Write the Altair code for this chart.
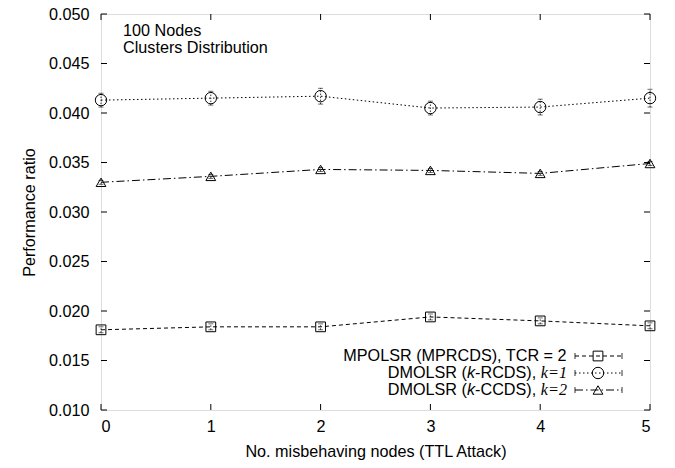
import altair as alt
import pandas as pd

# ---------------- data ----------------
x_vals = [0, 1, 2, 3, 4, 5]
mprcds_vals = [0.0181, 0.0184, 0.0184, 0.0194, 0.0190, 0.0185]
mprcds_err = [0.0003, 0.0003, 0.0003, 0.0003, 0.0003, 0.0003]
rcds_vals = [0.0413, 0.0415, 0.0417, 0.0405, 0.0406, 0.0415]
rcds_err = [0.0007, 0.0007, 0.0008, 0.0007, 0.0008, 0.0009]
ccds_vals = [0.0330, 0.0336, 0.0343, 0.0342, 0.0339, 0.0349]
ccds_err = [0.0002, 0.0002, 0.0002, 0.0002, 0.0002, 0.0002]

legend_pieces = [
    [("MPOLSR (MPRCDS), TCR = 2", "sans")],
    [("DMOLSR (", "sans"), ("k", "sansi"), ("-RCDS),", "sans"), (" ", "gap"), ("k=1", "serifi")],
    [("DMOLSR (", "sans"), ("k", "sansi"), ("-CCDS),", "sans"), (" ", "gap"), ("k=2", "serifi")],
]
annotation_lines = ["100 Nodes", "Clusters Distribution"]
x_ticks = [0, 1, 2, 3, 4, 5]
y_ticks = [0.010, 0.015, 0.020, 0.025, 0.030, 0.035, 0.040, 0.045, 0.050]
x_title = "No. misbehaving nodes (TTL Attack)"
y_title = "Performance ratio"

# ---------------- layout ----------------
W, H = 549, 396
FONT = "Liberation Sans"
SERIF = "Liberation Serif"
FS = 16.2
TICK = 6

xscale = alt.Scale(domain=[0, 5], nice=False, zero=False)
yscale = alt.Scale(domain=[0.010, 0.050], nice=False, zero=False)

x_axis = alt.Axis(values=x_ticks, format="d", ticks=False, domain=False, grid=False,
                  labelFont=FONT, labelFontSize=FS, labelColor="black", labelPadding=8,
                  title=x_title, titleFont=FONT, titleFontSize=FS, titleFontWeight="normal",
                  titleColor="black", titlePadding=9)
y_axis = alt.Axis(values=y_ticks, format=".3f", ticks=False, domain=False, grid=False,
                  labelFont=FONT, labelFontSize=FS, labelColor="black", labelPadding=12,
                  title=y_title, titleFont=FONT, titleFontSize=FS, titleFontWeight="normal",
                  titleColor="black", titlePadding=11)


def X(field):
    return alt.X(f"{field}:Q", scale=xscale, axis=x_axis, title=x_title)


def Y(field):
    return alt.Y(f"{field}:Q", scale=yscale, axis=y_axis, title=y_title)


def series_df(vals, errs):
    return pd.DataFrame({"x": x_vals, "y": vals,
                         "lo": [v - e for v, e in zip(vals, errs)],
                         "hi": [v + e for v, e in zip(vals, errs)]})


series = [
    (series_df(mprcds_vals, mprcds_err), "square", [4, 3], 95),
    (series_df(rcds_vals, rcds_err), "circle", [1.5, 2.5], 130),
    (series_df(ccds_vals, ccds_err), "triangle-up", [8, 3, 1.5, 3], 95),
]

layers = []

# inward ticks (gnuplot style), mirrored on all sides
xt = pd.DataFrame({"t": x_ticks})
yt = pd.DataFrame({"t": y_ticks})
layers.append(alt.Chart(yt).mark_rule(color="black", strokeWidth=1).encode(
    y=Y("t"), x=alt.value(0), x2=alt.value(TICK)))
layers.append(alt.Chart(yt).mark_rule(color="black", strokeWidth=1).encode(
    y=Y("t"), x=alt.value(W - TICK), x2=alt.value(W)))
layers.append(alt.Chart(xt).mark_rule(color="black", strokeWidth=1).encode(
    x=X("t"), y=alt.value(H), y2=alt.value(H - TICK)))
layers.append(alt.Chart(xt).mark_rule(color="black", strokeWidth=1).encode(
    x=X("t"), y=alt.value(0), y2=alt.value(TICK)))

for df, shape, dash, size in series:
    base = alt.Chart(df)
    layers.append(base.mark_line(color="black", strokeWidth=1, strokeDash=dash).encode(
        x=X("x"), y=Y("y")))
    layers.append(base.mark_rule(color="black", strokeWidth=0.8, strokeDash=[1.5, 1.5]).encode(
        x=X("x"), y=Y("lo"), y2="hi"))
    layers.append(base.mark_tick(color="black", orient="horizontal", size=5, thickness=0.8).encode(
        x=X("x"), y=Y("lo")))
    layers.append(base.mark_tick(color="black", orient="horizontal", size=5, thickness=0.8).encode(
        x=X("x"), y=Y("hi")))
    layers.append(base.mark_point(shape=shape, filled=False, color="black", size=size,
                                  strokeWidth=1, opacity=1).encode(x=X("x"), y=Y("y")))

# annotation
for i, line in enumerate(annotation_lines):
    layers.append(alt.Chart(pd.DataFrame({"t": [line]})).mark_text(
        align="left", baseline="middle", font=FONT, fontSize=FS, color="black").encode(
        x=alt.value(22), y=alt.value(17 + 17 * i), text="t:N"))

# legend
SANS_W = {" ": 278, "(": 333, ")": 333, ",": 278, "-": 333, "=": 584, "1": 556, "2": 556,
          "A": 667, "C": 722, "D": 722, "L": 556, "M": 833, "O": 778, "P": 667, "R": 722,
          "S": 667, "T": 611, "k": 500}
SERIFI_W = {"k": 444, "=": 675, "1": 500, "2": 500}
SERIF_FS = 16.2


def width(text, style):
    if style == "serifi":
        return sum(SERIFI_W.get(c, 500) for c in text) * SERIF_FS / 1000.0
    return sum(SANS_W.get(c, 556) for c in text) * FS / 1000.0


TEXT_END = 567 - 101
SYM_X0, SYM_X1, SYM_C = 474, 521, 497
for i, pieces in enumerate(legend_pieces):
    ry = 342 + 17 * i
    total = sum(width(t, s) for t, s in pieces)
    cur = TEXT_END - total
    for t, s in pieces:
        if s != "gap":
            font = SERIF if s == "serifi" else FONT
            style = "italic" if s in ("sansi", "serifi") else "normal"
            fs = SERIF_FS if s == "serifi" else FS
            layers.append(alt.Chart(pd.DataFrame({"t": [t]})).mark_text(
                align="left", baseline="middle", font=font, fontSize=fs, fontStyle=style,
                color="black").encode(x=alt.value(cur), y=alt.value(ry), text="t:N"))
        cur += width(t, s)
    df, shape, dash, size = series[i]
    layers.append(alt.Chart(pd.DataFrame({"a": [0]})).mark_rule(
        color="black", strokeWidth=1, strokeDash=dash).encode(
        x=alt.value(SYM_X0), x2=alt.value(SYM_X1), y=alt.value(ry)))
    for ex in (SYM_X0, SYM_X1):
        layers.append(alt.Chart(pd.DataFrame({"a": [0]})).mark_rule(
            color="black", strokeWidth=0.8).encode(
            x=alt.value(ex), y=alt.value(ry - 3), y2=alt.value(ry + 3)))
    layers.append(alt.Chart(pd.DataFrame({"a": [0]})).mark_point(
        shape=shape, filled=False, color="black", size=size, strokeWidth=1, opacity=1).encode(
        x=alt.value(SYM_C), y=alt.value(ry)))

chart = alt.layer(*layers).properties(
    width=W, height=H,
    autosize=alt.AutoSizeParams(type="none"),
    padding={"left": 101, "top": 14, "right": 25, "bottom": 58},
).configure_view(stroke="black", strokeWidth=1.2).configure(background="white")

chart.save("out.html", embed_options={"renderer": "svg", "actions": False})
